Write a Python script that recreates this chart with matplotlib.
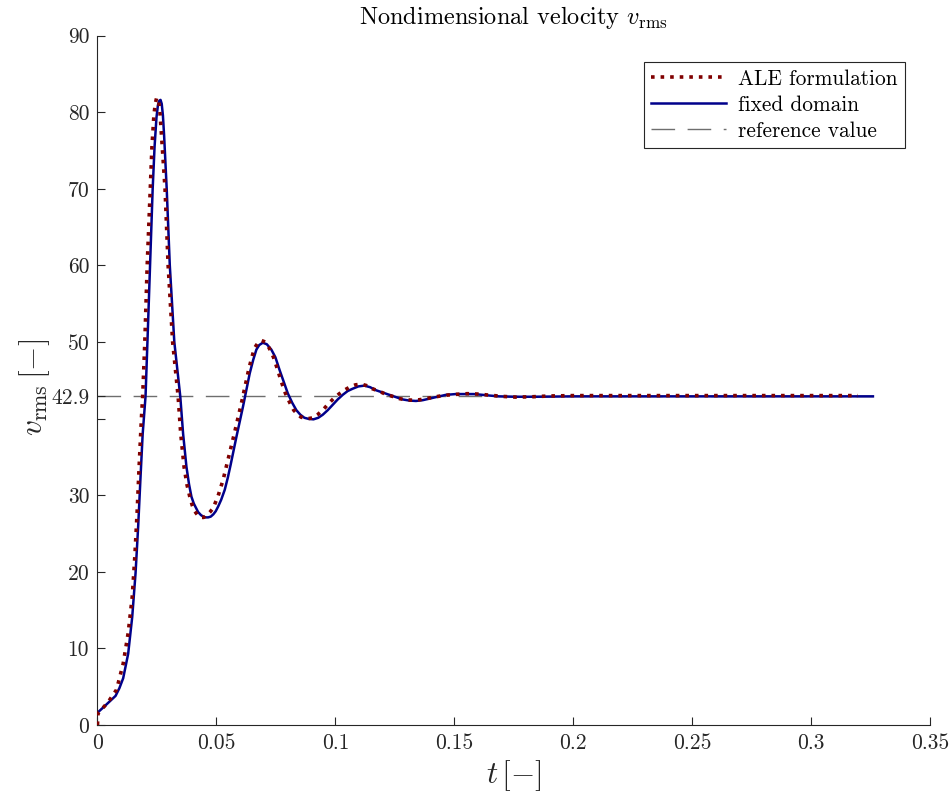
import matplotlib
matplotlib.use("Agg")
import matplotlib.pyplot as plt

plt.rcParams['font.family'] = 'serif'
plt.rcParams['font.serif'] = ['cmr10']
plt.rcParams['mathtext.fontset'] = 'cm'
plt.rcParams['axes.unicode_minus'] = False
plt.rcParams['axes.formatter.use_mathtext'] = True

# fixed domain run
t_fixed = [0, 0.0035, 0.0076, 0.0092, 0.0108, 0.0129, 0.0146, 0.016, 0.0171, 0.0181,
           0.019, 0.0202, 0.021, 0.0221, 0.0232, 0.0240, 0.0248, 0.0254, 0.026, 0.0265,
           0.027, 0.0275, 0.0280, 0.0291, 0.0304, 0.0323, 0.0348, 0.036, 0.0374, 0.0385,
           0.0395, 0.0405, 0.0423, 0.0435, 0.0445, 0.0455, 0.0465, 0.0476, 0.0487, 0.0497,
           0.0507, 0.052, 0.0535, 0.0548, 0.056, 0.0584, 0.0612, 0.064, 0.0655, 0.0668,
           0.068, 0.0695, 0.0712, 0.0731, 0.0748, 0.0766, 0.0783, 0.08, 0.0818, 0.0836,
           0.0853, 0.087, 0.0889, 0.0908, 0.0928, 0.0947, 0.0968, 0.0989, 0.101, 0.1031,
           0.1052, 0.1073, 0.1097, 0.1122, 0.1146, 0.1171, 0.1199, 0.1227, 0.1255, 0.1283,
           0.1311, 0.1339, 0.1367, 0.1395, 0.143, 0.1465, 0.1507, 0.1549, 0.1583, 0.1618,
           0.165, 0.1688, 0.175, 0.185, 0.2, 0.22, 0.27, 0.326]
v_fixed = [1.6, 2.6, 3.8, 4.8, 6.1, 9.3, 14.1, 19.8, 25.9, 32.4,
           38.0, 42.9, 50, 60, 70, 75.5, 79.3, 80.9, 81.5, 81.6,
           81.1, 79.6, 77, 70, 60, 50, 42.9, 38, 33.7, 31.4,
           29.8, 28.9, 27.8, 27.4, 27.2, 27.1, 27.1, 27.2, 27.5, 27.9,
           28.5, 29.4, 30.7, 32.3, 34, 37.6, 41.6, 45.9, 47.7, 49.0,
           49.6, 49.9, 49.7, 49.0, 48.0, 46.3, 44.8, 43.3, 42.1, 41.1,
           40.5, 40.1, 39.95, 39.9, 40.1, 40.5, 41.1, 41.8, 42.5, 43.1,
           43.6, 43.9, 44.2, 44.3, 44.1, 43.7, 43.4, 43.1, 42.8, 42.5,
           42.35, 42.3, 42.4, 42.6, 42.85, 43.1, 43.2, 43.2, 43.2, 43.1,
           43.0, 42.9, 42.85, 42.85, 42.9, 42.9, 42.9, 42.9]

# ALE run
t_ale = [0, 0.0002, 0.0045, 0.008, 0.0108, 0.0129, 0.0146, 0.0157, 0.0167, 0.0175,
         0.0185, 0.019, 0.0199, 0.0209, 0.0222, 0.0229, 0.0237, 0.0243, 0.0248, 0.0253,
         0.0258, 0.0263, 0.0268, 0.0284, 0.0297, 0.0316, 0.0339, 0.035, 0.0364, 0.0376,
         0.0388, 0.0398, 0.0409, 0.0421, 0.0434, 0.0447, 0.046, 0.0473, 0.0486, 0.0507,
         0.0528, 0.055, 0.0575, 0.0605, 0.0635, 0.0648, 0.066, 0.0675, 0.0689, 0.0705,
         0.0722, 0.074, 0.0757, 0.0773, 0.079, 0.0808, 0.0825, 0.084, 0.0855, 0.087,
         0.0887, 0.0906, 0.0925, 0.0947, 0.097, 0.0992, 0.1015, 0.1037, 0.106, 0.1084,
         0.1108, 0.1132, 0.1155, 0.1182, 0.121, 0.124, 0.127, 0.1298, 0.1325, 0.1352,
         0.138, 0.1415, 0.145, 0.15, 0.1555, 0.16, 0.165, 0.17, 0.176, 0.183,
         0.19, 0.2, 0.22, 0.27, 0.3197]
v_ale = [0, 1.5, 3.0, 4.6, 8.0, 12.0, 16.7, 22, 28, 33.7,
         40.2, 42.9, 50, 60, 70, 75.5, 79.5, 81.1, 81.8, 81.85,
         81.3, 79.8, 77.5, 70, 60, 50, 42.9, 38, 33.7, 31.4,
         29.8, 28.7, 27.9, 27.4, 27.1, 27.1, 27.4, 27.8, 28.3, 29.9,
         32, 34.8, 38, 42, 46.3, 47.9, 49.2, 49.9, 50.2, 50.0,
         49.2, 48.0, 46.4, 44.8, 43.3, 42.1, 41.1, 40.6, 40.2, 40.05,
         40.0, 40.1, 40.5, 41.1, 41.9, 42.6, 43.2, 43.7, 44.1, 44.4,
         44.5, 44.3, 43.9, 43.6, 43.2, 42.9, 42.6, 42.45, 42.4, 42.45,
         42.6, 42.8, 43.0, 43.15, 43.25, 43.2, 43.05, 42.9, 42.8, 42.85,
         42.95, 43.0, 43.0, 43.0, 43.0]

v_ref = 42.9
t_span = [0, 0.326]

yticks = [0, 10, 20, 30, 40, 42.9, 50, 60, 70, 80, 90]
ytick_labels = ['0', '10', '20', '30', '', '42.9', '50', '60', '70', '80', '90']
xticks = [0, 0.05, 0.1, 0.15, 0.2, 0.25, 0.3, 0.35]
xtick_labels = ['0', '0.05', '0.1', '0.15', '0.2', '0.25', '0.3', '0.35']

fig = plt.figure(figsize=(9.52, 8.01), dpi=100)
ax = fig.add_axes([0.1024, 0.0949, 0.8745, 0.8607])

ax.plot(t_ale, v_ale, color='#800000', lw=2.6, linestyle=(0, (1, 1.65)),
        label='ALE formulation', zorder=3)
ax.plot(t_fixed, v_fixed, color='#00008b', lw=1.8, label='fixed domain', zorder=2)
ax.plot(t_span, [v_ref, v_ref], color='#6e6e6e', lw=1.0, dashes=(17, 9),
        label='reference value', zorder=1)

ax.set_xlim(0, 0.35)
ax.set_ylim(0, 90)
ax.set_xticks(xticks)
ax.set_xticklabels(xtick_labels)
ax.set_yticks(yticks)
ax.set_yticklabels(ytick_labels)

for side in ['top', 'right']:
    ax.spines[side].set_visible(False)
for side in ['left', 'bottom']:
    ax.spines[side].set_color('#262626')
    ax.spines[side].set_linewidth(0.8)
ax.tick_params(direction='in', length=5.5, width=0.8, color='#262626',
               labelcolor='#262626', labelsize=15.5, pad=6)

ax.set_xlabel(r'$t\,[-]$', fontsize=22.5, color='#262626', labelpad=4)
ax.set_ylabel(r'$v_{\mathrm{rms}}\,[-]$', fontsize=22.5, color='#262626')
ax.yaxis.set_label_coords(-0.055, 0.49)
ax.set_title(r'Nondimensional velocity $v_{\mathrm{rms}}$', fontsize=17.5, pad=8)

leg = ax.legend(loc='upper right', bbox_to_anchor=(0.970, 0.962), borderaxespad=0,
                fontsize=15.4, fancybox=False, framealpha=1, edgecolor='#262626',
                handlelength=3.5, borderpad=0.35, labelspacing=0.3, handletextpad=0.55)
leg.get_frame().set_linewidth(0.8)

fig.savefig('out.png', dpi=100)
